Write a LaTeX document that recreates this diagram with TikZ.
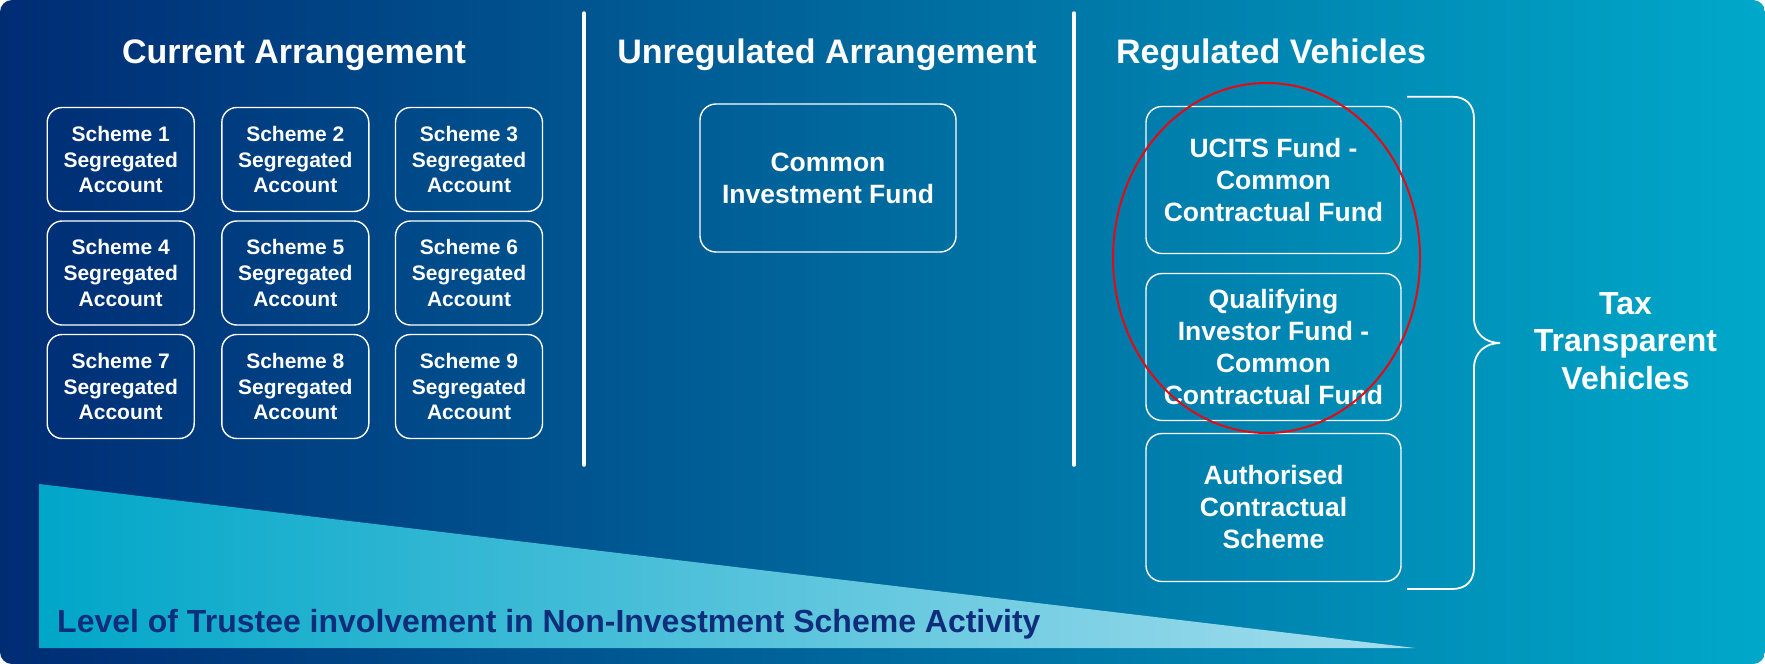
\documentclass[tikz,border=0pt]{standalone}
\usepackage{fontspec}
\setmainfont{Liberation Sans}
\definecolor{bgleft}{RGB}{0,44,116}
\definecolor{bgright}{RGB}{0,168,201}
\definecolor{wedgeleft}{RGB}{0,166,200}
\definecolor{wedgeright}{RGB}{166,222,238}
\definecolor{navytext}{RGB}{14,46,124}
\definecolor{ringred}{RGB}{228,10,20}
\begin{document}
\begin{tikzpicture}[x=1pt,y=-1pt,
  heading/.style={text=white, font=\fontsize{34}{40}\selectfont\bfseries, inner sep=0pt},
  schemebox/.style={draw=white, line width=1.4pt, rounded corners=15pt,
    minimum width=147pt, minimum height=104pt, align=center, text=white,
    font=\fontsize{21}{25.7}\selectfont\bfseries, inner sep=0pt},
  fundbox/.style={draw=white, line width=1.4pt, rounded corners=16pt,
    minimum width=255pt, minimum height=147pt, align=center, text=white,
    font=\fontsize{26.5}{32}\selectfont\bfseries, inner sep=0pt},
  divider/.style={white, line width=3.5pt, line cap=round},
  bracket/.style={white, line width=1.8pt}]

\useasboundingbox (0,0) rectangle (1765,664);
\fill[white] (0,0) rectangle (1765,664);

% panel background
\shade[left color=bgleft, right color=bgright, rounded corners=12pt]
  (0,0) rectangle (1765,664);

% trustee involvement wedge
\shade[left color=wedgeleft, right color=wedgeright]
  (39,484) -- (39,648) -- (1415,648) -- cycle;
\node[anchor=base west, text=navytext, font=\fontsize{32}{36}\selectfont\bfseries, inner sep=0pt]
  (level) at (57,632) {Level of Trustee involvement in Non-Investment Scheme Activity};

% column dividers
\coordinate (d1top) at (584,13);
\coordinate (d1bot) at (584,465);
\coordinate (d2top) at (1074,13);
\coordinate (d2bot) at (1074,465);
\draw[divider] (d1top) -- (d1bot);
\draw[divider] (d2top) -- (d2bot);

% headings
\node[heading] (hcur) at (294,55) {Current Arrangement};
\node[heading] (hunreg) at (827,55) {Unregulated Arrangement};
\node[heading] (hreg) at (1271,55) {Regulated Vehicles};

% segregated accounts
\node[schemebox] (s1) at (120.7,159.5) {Scheme 1\\Segregated\\Account};
\node[schemebox] (s2) at (295.3,159.5) {Scheme 2\\Segregated\\Account};
\node[schemebox] (s3) at (469,159.5) {Scheme 3\\Segregated\\Account};
\node[schemebox] (s4) at (120.7,273) {Scheme 4\\Segregated\\Account};
\node[schemebox] (s5) at (295.3,273) {Scheme 5\\Segregated\\Account};
\node[schemebox] (s6) at (469,273) {Scheme 6\\Segregated\\Account};
\node[schemebox] (s7) at (120.7,386.5) {Scheme 7\\Segregated\\Account};
\node[schemebox] (s8) at (295.3,386.5) {Scheme 8\\Segregated\\Account};
\node[schemebox] (s9) at (469,386.5) {Scheme 9\\Segregated\\Account};

% unregulated fund
\node[fundbox, minimum width=256pt, minimum height=148pt] (cif) at (828,178)
  {Common\\Investment Fund};

% regulated vehicles
\node[fundbox] (ucits) at (1273.5,180) {UCITS Fund -\\Common\\Contractual Fund};
\node[fundbox] (qif) at (1273.5,347) {Qualifying\\Investor Fund -\\Common\\Contractual Fund};
\node[fundbox, minimum height=148pt] (acs) at (1273.5,507.5) {Authorised\\Contractual\\Scheme};

% brace grouping the regulated vehicles
\draw[bracket] (1407,96.7) -- (1452,96.7)
  .. controls (1466,96.7) and (1474,105) .. (1474,119)
  -- (1474,318)
  .. controls (1474,334) and (1486,343) .. (1500,343)
  .. controls (1486,343) and (1474,352) .. (1474,368)
  -- (1474,567)
  .. controls (1474,581) and (1466,589) .. (1452,589)
  -- (1407,589);
\node[text=white, align=center, font=\fontsize{32}{37.7}\selectfont\bfseries, inner sep=0pt]
  (tax) at (1625.5,341) {Tax\\Transparent\\Vehicles};

% highlight ring
\draw[ringred, line width=2pt] (1266.5,258) ellipse [x radius=153.5, y radius=175];

\end{tikzpicture}
\end{document}
